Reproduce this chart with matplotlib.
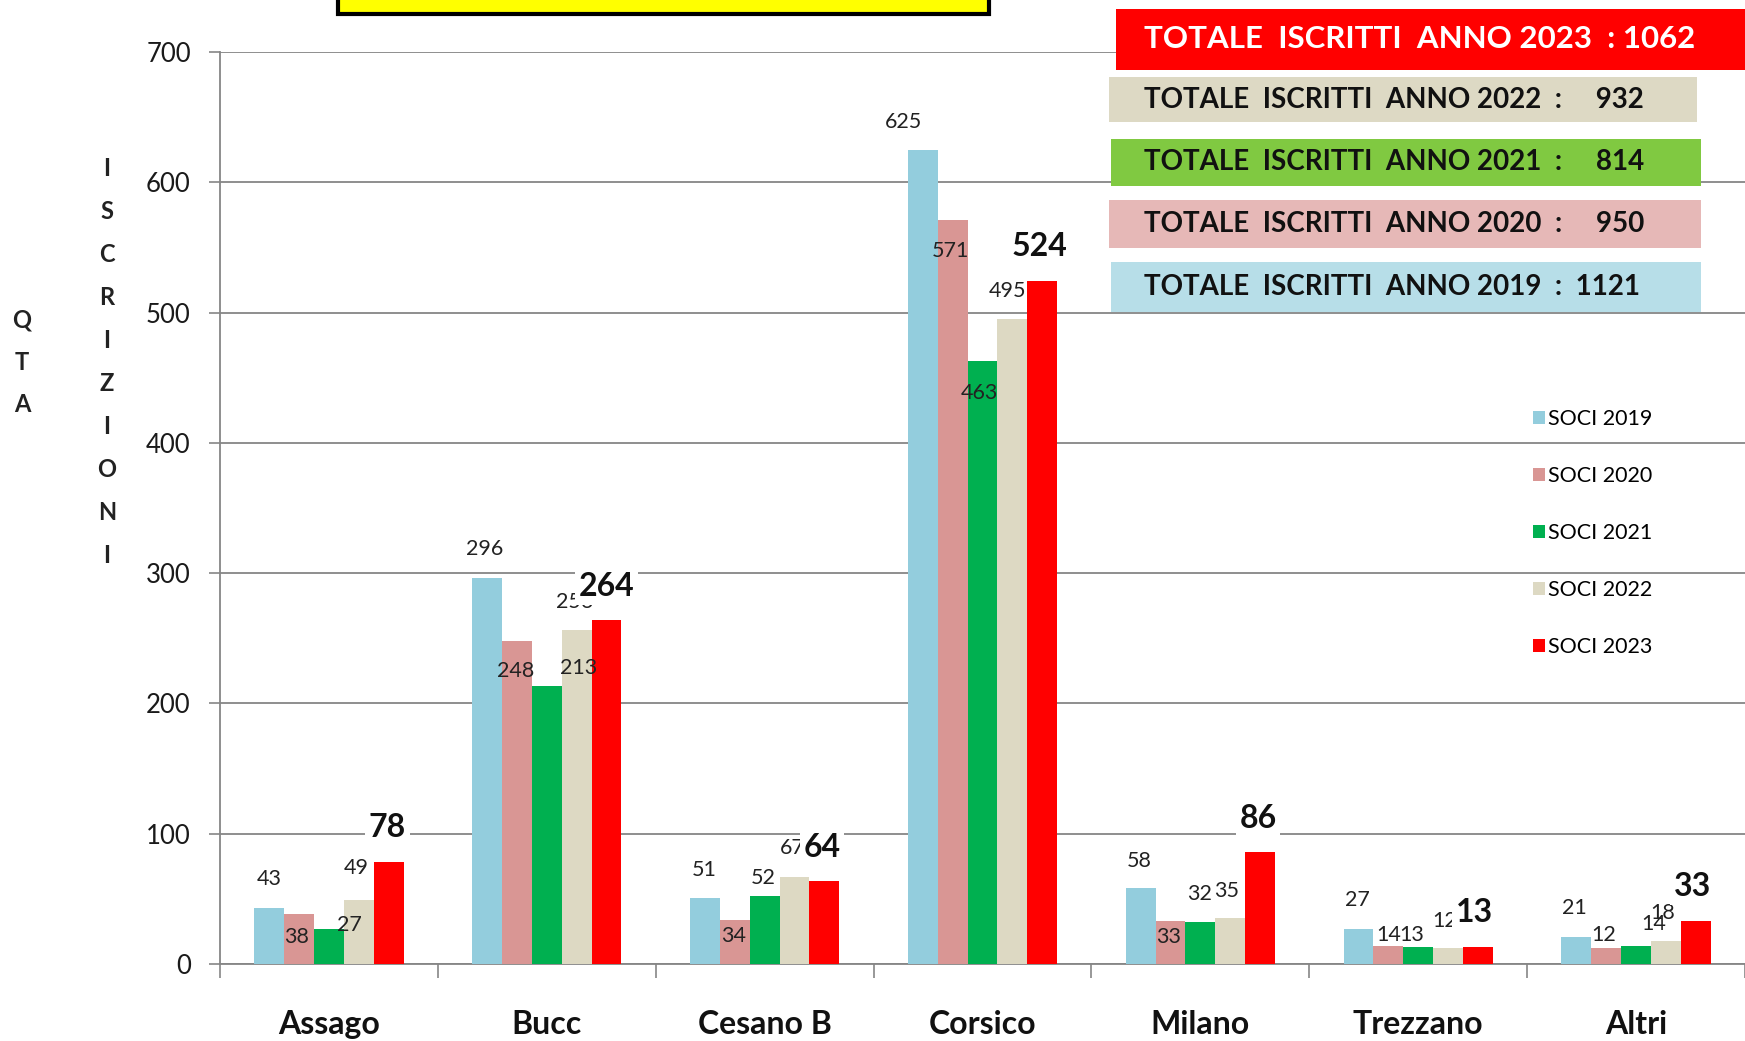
import numpy as np
import matplotlib.pyplot as plt
from matplotlib.patches import Rectangle

plt.rcParams['font.family'] = ['Lato', 'DejaVu Sans']

comuni = ['Assago', 'Bucc', 'Cesano B', 'Corsico', 'Milano', 'Trezzano', 'Altri']
soci2019 = [43, 296, 51, 625, 58, 27, 21]
soci2020 = [38, 248, 34, 571, 33, 14, 12]
soci2021 = [27, 213, 52, 463, 32, 13, 14]
soci2022 = [49, 256, 67, 495, 35, 12, 18]
soci2023 = [78, 264, 64, 524, 86, 13, 33]
anni = ['2019', '2020', '2021', '2022', '2023']
totali = [1121, 950, 814, 932, 1062]

colori = ['#93CDDD', '#D99694', '#00B050', '#DDD9C3', '#FF0000']
colori_box = ['#B7DEE8', '#E6B8B7', '#80C941', '#DDD9C4', '#FF0000']

# label offsets (reference pixels, dx, dy up), one list per year
off = [
    [(0, 26), (-2, 26), (-1, 25), (-17, 25), (-1, 25), (-1, 26), (-2, 26)],
    [(-2, -20), (-1, -27), (-1, -15), (-2, -28), (-2, -14), (0, 10), (-2, 12)],
    [(18, 3), (29, 17), (-1, 16), (-3, -29), (-1, 25), (-6, 11), (16, 20)],
    [(-2, 29), (-2, 26), (-2, 26), (-4, 25), (-3, 25), (-3, 25), (-3, 25)],
    [(-1, 31), (0, 30), (-2, 30), (-2, 31), (-2, 30), (-3, 31), (-3, 31)],
]
k = 1.113 * 0.72

W, H = 1745, 1041
fig = plt.figure(figsize=(W / 100, H / 100), dpi=100)
ax = fig.add_axes([220 / W, 1 - 964 / H, 1 - 220 / W, (964 - 52) / H])

serie = [soci2019, soci2020, soci2021, soci2022, soci2023]
x = np.arange(len(comuni))
w = 0.137
bars = []
for j, vals in enumerate(serie):
    b = ax.bar(x + (j - 2) * w, vals, w, color=colori[j], zorder=3,
               label='SOCI ' + anni[j])
    bars.append(b)
    for i, v in enumerate(vals):
        dx, dy = off[j][i]
        if j == 4:
            ax.annotate(str(v), (x[i] + (j - 2) * w, v), xytext=(dx * k, dy * k),
                        textcoords='offset points', ha='center', va='center',
                        fontsize=23, fontweight='bold', color='#111111', zorder=7,
                        bbox=dict(facecolor='white', edgecolor='none', pad=2.5),
                        annotation_clip=False)
        else:
            ax.annotate(str(v), (x[i] + (j - 2) * w, v), xytext=(dx * k, dy * k),
                        textcoords='offset points', ha='center', va='center',
                        fontsize=15.5, color='#222222', zorder=6,
                        annotation_clip=False)

ax.set_xlim(-0.5, 6.5)
ax.set_ylim(0, 700)
ax.set_yticks(range(0, 701, 100))
ax.yaxis.grid(True, color='#868686', linewidth=1.3, zorder=0)
ax.set_axisbelow(True)
ax.tick_params(axis='y', length=8, width=1.2, color='#868686', pad=13, labelsize=18.5,
               labelcolor='#1a1a1a')
ax.set_xticks(x)
ax.set_xticklabels(comuni, fontsize=23, fontweight='bold', color='#111111')
ax.tick_params(axis='x', which='major', length=0, pad=33)
ax.set_xticks(np.arange(-0.5, 7, 1), minor=True)
ax.tick_params(axis='x', which='minor', length=10, width=1.2, color='#868686')
for s in ['top', 'right']:
    ax.spines[s].set_visible(False)
for s in ['left', 'bottom']:
    ax.spines[s].set_color('#868686')
    ax.spines[s].set_linewidth(1.3)

ax.legend(handles=bars, loc='upper left', bbox_to_anchor=(1514 / W, 1 - 390 / H),
          bbox_transform=fig.transFigure, frameon=False, fontsize=15.5,
          handlelength=0.55, handleheight=0.55, handletextpad=0.15, labelspacing=1.72)

# axis titles, one letter per line
for n, ch in enumerate('QTA'):
    fig.text(22 / W, 1 - (320 + n * 42.5) / H, ch, ha='center', va='center',
             fontsize=17, fontweight='bold', color='#222222')
for n, ch in enumerate('ISCRIZIONI'):
    fig.text(107 / W, 1 - (169 + n * 42.9) / H, ch, ha='center', va='center',
             fontsize=17, fontweight='bold', color='#222222')

# yellow title box cut by the top edge
fig.patches.append(Rectangle((338 / W, 1 - 14 / H), (989 - 338) / W, 40 / H,
                             transform=fig.transFigure, facecolor='#FFFF00',
                             edgecolor='black', linewidth=3, zorder=10))

# totals boxes
box_y = {'2023': (9, 70), '2022': (77, 122), '2021': (139, 186),
         '2020': (200, 248), '2019': (262, 312)}
box_x = {'2023': (1116, 1760), '2022': (1109, 1697), '2021': (1111, 1701),
         '2020': (1109, 1701), '2019': (1111, 1701)}
for j, anno in enumerate(anni):
    x0, x1 = box_x[anno]
    y0, y1 = box_y[anno]
    fig.patches.append(Rectangle((x0 / W, 1 - y1 / H), (x1 - x0) / W, (y1 - y0) / H,
                                 transform=fig.transFigure, facecolor=colori_box[j],
                                 edgecolor='none', zorder=10))
    if anno == '2023':
        txt = 'TOTALE  ISCRITTI  ANNO %s  : %d' % (anno, totali[j])
        fig.text(1144 / W, 1 - (y0 + y1) / 2 / H, txt, ha='left', va='center',
                 fontsize=22.5, fontweight='bold', color='white', zorder=11)
    else:
        sep = '  :  ' if totali[j] > 999 else '  :     '
        txt = 'TOTALE  ISCRITTI  ANNO %s%s%d' % (anno, sep, totali[j])
        fig.text(1144 / W, 1 - (y0 + y1) / 2 / H, txt, ha='left', va='center',
                 fontsize=20, fontweight='bold', color='#111111', zorder=11)

fig.savefig('out.png', dpi=100)
